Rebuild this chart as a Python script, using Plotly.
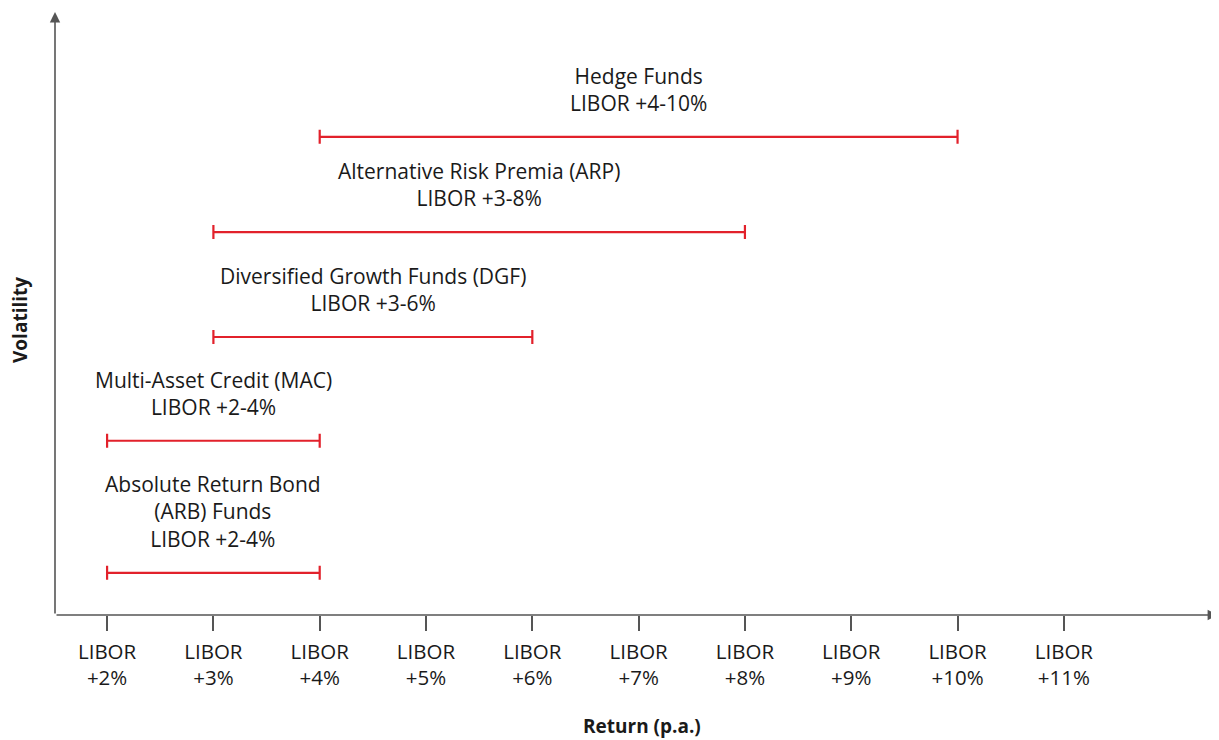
import plotly.graph_objects as go

# Data
categories = ["Absolute Return Bond<br>(ARB) Funds", "Multi-Asset Credit (MAC)",
              "Diversified Growth Funds (DGF)", "Alternative Risk Premia (ARP)", "Hedge Funds"]
range_labels = ["LIBOR +2-4%", "LIBOR +2-4%", "LIBOR +3-6%", "LIBOR +3-8%", "LIBOR +4-10%"]
ret_low = [2, 2, 3, 3, 4]
ret_high = [4, 4, 6, 8, 10]
volatility = [7.0, 28.9, 46.1, 63.5, 79.3]
tick_vals = [2, 3, 4, 5, 6, 7, 8, 9, 10, 11]
tick_text = ["LIBOR<br>+%d%%" % v for v in tick_vals]

RED = "#e2212b"
AX = "#555555"
FONT = "Open Sans"
XMIN, XMAX = 1.51, 12.45
YMIN, YMAX = 0, 100

# page body has an 8px margin; size the figure so it fits the window
W, H = 1211, 732
ML, MR, MT, MB = 47, 1, 4, 125
pw, ph = W - ML - MR, H - MT - MB

mid = [(a + b) / 2 for a, b in zip(ret_low, ret_high)]
half = [(b - a) / 2 for a, b in zip(ret_low, ret_high)]

fig = go.Figure()
fig.add_trace(go.Scatter(
    x=mid, y=volatility, mode="markers",
    marker=dict(size=1, color="rgba(0,0,0,0)"),
    error_x=dict(type="data", array=half, symmetric=True, color=RED, thickness=2.2, width=7),
    hoverinfo="skip", showlegend=False,
))

for m, v, c, r in zip(mid, volatility, categories, range_labels):
    fig.add_annotation(x=m, y=v, text=c + "<br>" + r, showarrow=False,
                       yanchor="bottom", yshift=18, xref="x", yref="y",
                       font=dict(family=FONT, size=21, color="#1a1a1a"))

# axis arrows
fig.add_annotation(x=XMIN, y=YMAX, ax=XMIN, ay=YMIN, xref="x", yref="y", axref="x", ayref="y",
                   showarrow=True, arrowhead=2, arrowsize=1.3, arrowwidth=1.6, arrowcolor=AX, text="")
fig.add_annotation(x=XMAX, y=YMIN, ax=XMIN, ay=YMIN, xref="x", yref="y", axref="x", ayref="y",
                   showarrow=True, arrowhead=2, arrowsize=1.3, arrowwidth=1.6, arrowcolor=AX, text="")

# axis titles (screen targets minus 8px body offset)
fig.add_annotation(x=(634 - ML) / pw, y=(MT + ph - 718) / ph, xref="paper", yref="paper",
                   text="<b>Return (p.a.)</b>", showarrow=False, xanchor="center", yanchor="middle",
                   font=dict(family=FONT, size=19, color="#1a1a1a"))
fig.add_annotation(x=(12 - ML) / pw, y=(MT + ph - 312) / ph, xref="paper", yref="paper",
                   text="<b>Volatility</b>", showarrow=False, textangle=-90,
                   xanchor="center", yanchor="middle",
                   font=dict(family=FONT, size=19, color="#1a1a1a"))

fig.update_layout(
    width=W, height=H,
    margin=dict(l=ML, r=MR, t=MT, b=MB),
    plot_bgcolor="white", paper_bgcolor="white",
    font=dict(family=FONT, size=20, color="#1a1a1a"),
    xaxis=dict(range=[XMIN, XMAX], tickvals=tick_vals, ticktext=tick_text, automargin=False,
               ticks="outside", ticklen=15, tickwidth=1.5, tickcolor=AX,
               tickfont=dict(size=20.5), ticklabelstandoff=3,
               showgrid=False, zeroline=False, showline=False),
    yaxis=dict(range=[YMIN, YMAX], showticklabels=False, ticks="", showgrid=False, zeroline=False,
               showline=False, automargin=False),
)

fig.write_html("out.html")
